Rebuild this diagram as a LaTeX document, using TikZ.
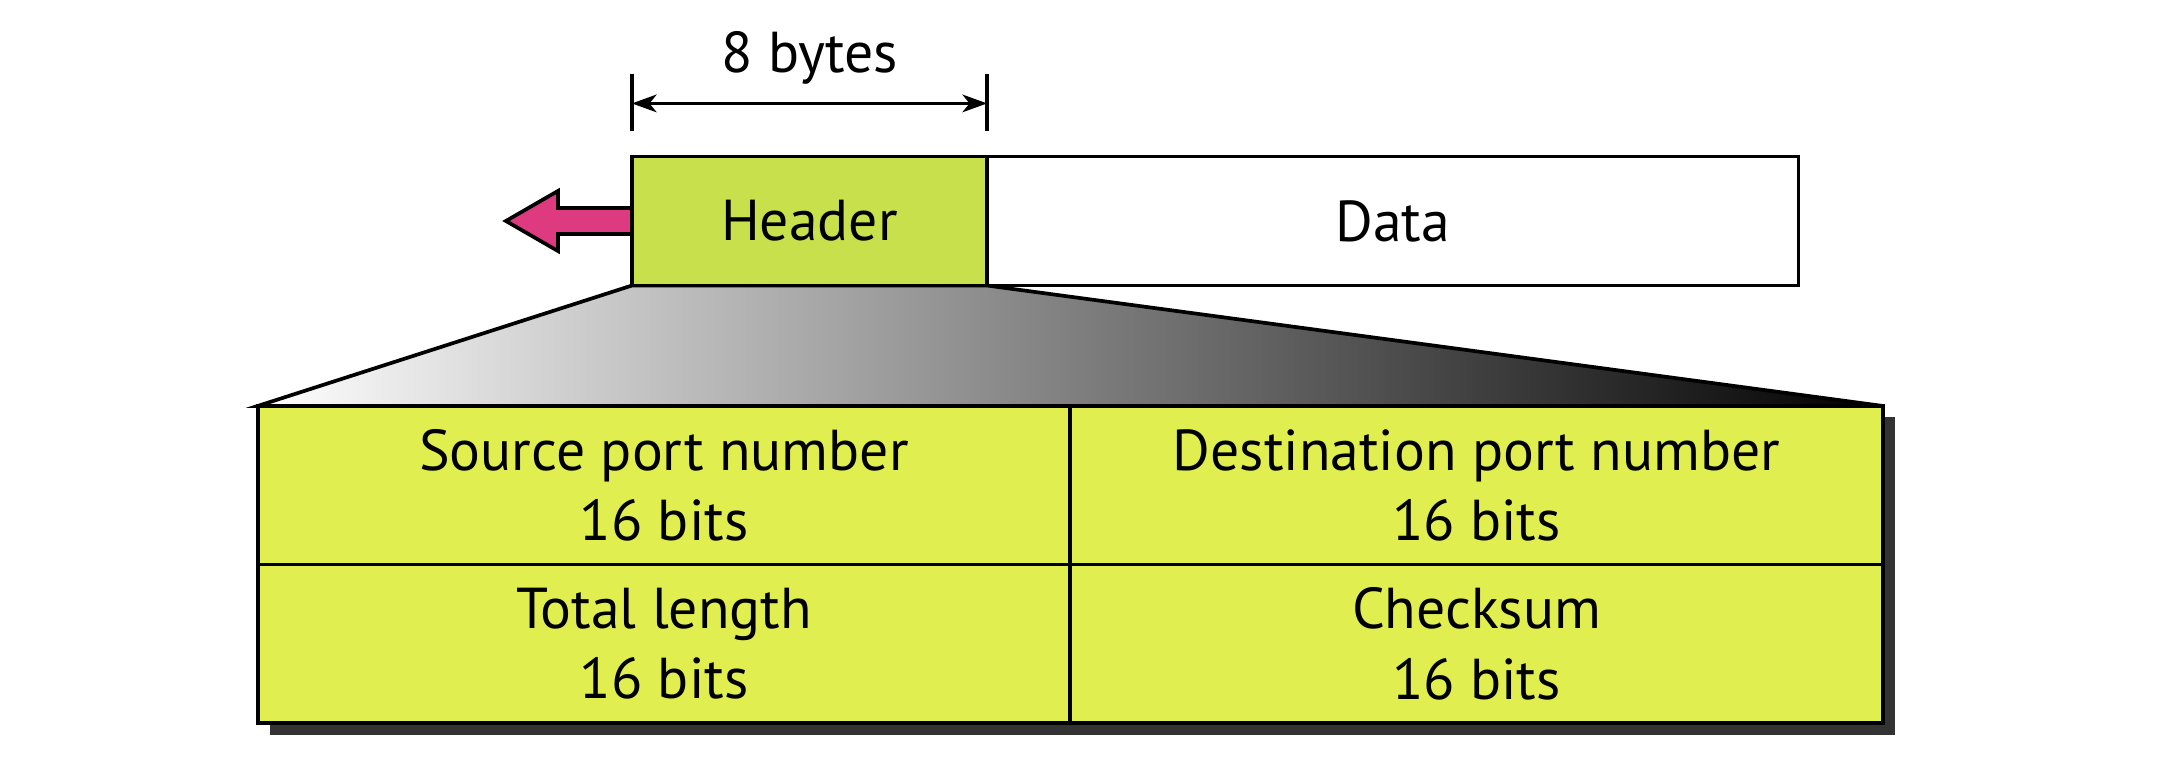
\documentclass[tikz,border=0pt]{standalone}
\usepackage{fontspec}
\setmainfont{PT Sans}
\usetikzlibrary{arrows.meta,positioning,backgrounds}
\definecolor{hdrgreen}{HTML}{C8E04B}
\definecolor{fieldyellow}{HTML}{E1EE50}
\definecolor{arrowpink}{HTML}{DE3A80}
\definecolor{shadowgray}{HTML}{333333}
\tikzset{
  lbl/.style={font=\fontsize{16.4}{20}\selectfont},
  seg/.style={lbl, draw, line width=1.05pt, outer sep=0pt, inner sep=0pt, minimum height=1.29cm},
  field/.style={lbl, draw, line width=1.05pt, outer sep=0pt, inner sep=0pt, fill=fieldyellow,
    minimum width=8.12cm, minimum height=1.585cm, align=center},
  dimarrow/.style={line width=1pt, {Stealth[length=7pt,width=5pt,inset=2pt]}-{Stealth[length=7pt,width=5pt,inset=2pt]}}
}
\begin{document}
\begin{tikzpicture}[x=0.01cm,y=-0.01cm]
        \useasboundingbox (0,0) rectangle (2182,780);
        % segment
        \node[seg, fill=hdrgreen, minimum width=3.55cm] (header) at (809.5,221) {Header};
        \node[seg, minimum width=8.11cm, right=0pt of header] (data) {Data};
        % header fields
        \node[field] (srcport) at (664,485.25) {Source port number\\16 bits};
        \node[field, right=0pt of srcport] (dstport) {Destination port number\\16 bits};
        \node[field, below=0pt of srcport] (totlen) {Total length\\16 bits};
        \node[field, right=0pt of totlen] (checksum) {Checksum\\16 bits};
        % shadow and fan-out
        \begin{pgfonlayer}{background}
        \fill [shadowgray] ([shift={(12,11)}]srcport.north west) rectangle ([shift={(12,12)}]checksum.south east);
        \shadedraw [left color=white, right color=black, line width=1.05pt] (header.south west) -- (header.south east) -- (dstport.north east) -- (srcport.north west) -- cycle;
        \draw [fill=arrowpink, line width=1.05pt] (header.west) ++(0,-13) -- ++(-74,0) -- ++(0,-17) -- ++(-52,30) -- ++(52,30) -- ++(0,-17) -- ++(74,0) -- cycle;
        \end{pgfonlayer}
        % 8 bytes
        \draw [line width=1pt] ([yshift=0.25cm]header.north west) -- ([yshift=0.82cm]header.north west);
        \draw [line width=1pt] ([yshift=0.25cm]header.north east) -- ([yshift=0.82cm]header.north east);
        \draw [dimarrow] ([yshift=0.53cm]header.north west) -- ([yshift=0.53cm]header.north east)
            node [lbl, midway, anchor=base, yshift=0.31cm] (bytes) {8 bytes};
        \end{tikzpicture}
\end{document}
